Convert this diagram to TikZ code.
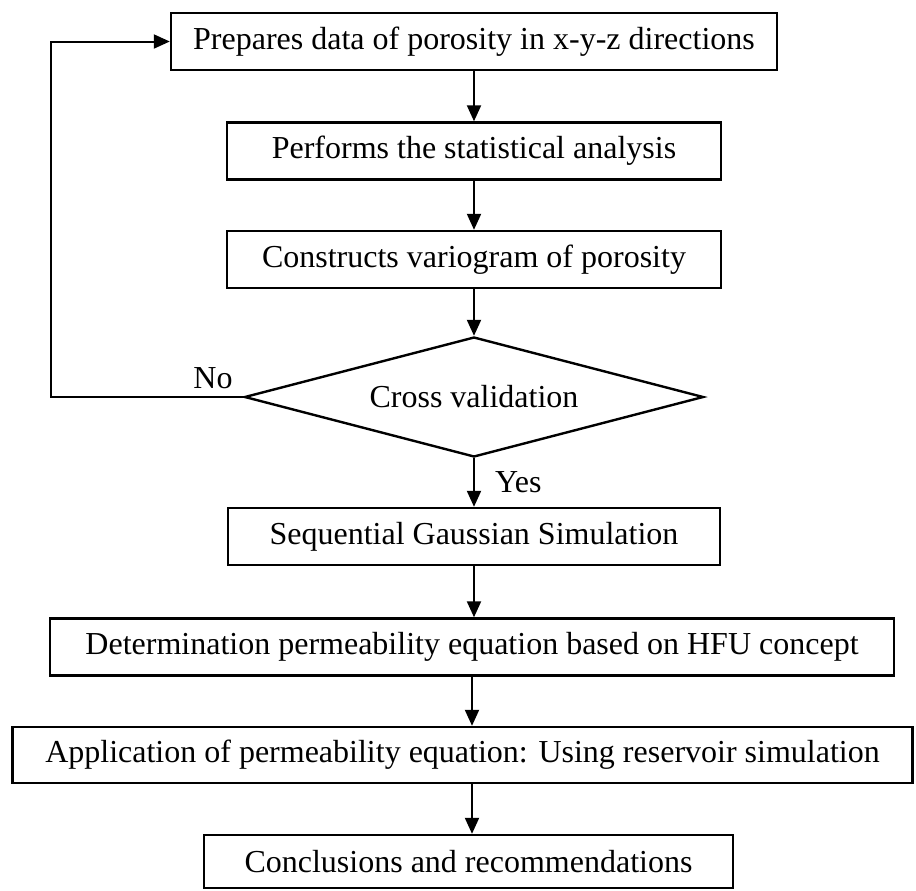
\documentclass[tikz,border=0pt]{standalone}
\usepackage{fontspec}
\setmainfont{Liberation Serif}
\usetikzlibrary{shapes.geometric,arrows.meta}

\begin{document}
\begin{tikzpicture}[x=0.5pt,y=-0.5pt,
		box/.style={draw=black,line width=1.2pt,rectangle,inner sep=0pt,minimum height=28.5pt,font=\fontsize{16}{19}\selectfont},
		test/.style={draw=black,line width=1.2pt,diamond,aspect=3.8,inner sep=0pt,minimum width=229.5pt,minimum height=60pt,font=\fontsize{16}{19}\selectfont},
		line/.style={draw=black,line width=1pt},
		flow/.style={line,-{Triangle[length=8pt,width=7pt]}}]
			\useasboundingbox (0,0) rectangle (916,890);
			\node [box,minimum width=303pt] (prep) at (474,41.5) {Prepares data of porosity in x-y-z directions};
			\node [box,minimum width=247pt] (stat) at (474,151) {Performs the statistical analysis};
			\node [box,minimum width=247pt] (vario) at (474,259.5) {Constructs variogram of porosity};
			\node [test] (cross) at (474,397) {Cross validation};
			\node [box,minimum width=246pt] (sgs) at (474,536.5) {Sequential Gaussian Simulation};
			\node [box,minimum width=422pt] (hfu) at (472,647) {Determination permeability equation based on HFU concept};
			\node [box,minimum width=450pt,minimum height=28pt] (appl) at (462.5,755) {Application of permeability equation: Using reservoir simulation};
			\node [box,minimum width=264.5pt,minimum height=26.5pt] (concl) at (468.5,861.5) {Conclusions and recommendations};
			\coordinate (loop) at (51,397);
			% main sequence
			\draw [flow] (prep) -- (stat);
			\draw [flow] (stat) -- (vario);
			\draw [flow] (vario) -- (cross);
			\draw [flow] (cross) -- node [right,inner sep=10pt,font=\fontsize{16}{19}\selectfont] (yes) {Yes} (sgs);
			\draw [flow] (sgs.south -| hfu.north) ++(2,0) -- ([xshift=1pt]hfu.north);
			\draw [flow] (hfu.south) -- (hfu.south |- appl.north);
			\draw [flow] (hfu.south |- appl.south) -- (hfu.south |- concl.north);
			% back to the start
			\draw [flow] (cross.west) -- (loop) |- (prep.west);
			\node [font=\fontsize{16}{19}\selectfont] (no) at (213,378) {No};
	\end{tikzpicture}
\end{document}
